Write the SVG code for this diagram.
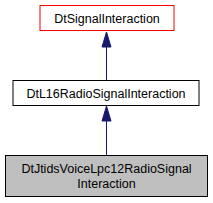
<svg xmlns="http://www.w3.org/2000/svg" width="213" height="203" viewBox="0 0 213 203">
<style>
.t{font-family:"Liberation Sans",Arial,sans-serif;font-size:12.5px;fill:#000;text-anchor:middle}
.e{stroke:#191970;stroke-width:1;fill:none}
.h{fill:#191970;stroke:#191970}
</style>
<rect width="213" height="203" fill="#fff"/>
<g id="edges">
<path class="e" d="M106.5,80 V47"/>
<path class="h" d="M106.5,32 L102,47 L111,47 Z"/>
<path class="e" d="M106.5,155 V121"/>
<path class="h" d="M106.5,106 L102,121 L111,121 Z"/>
</g>
<g id="n1">
<rect x="40" y="5.5" width="134" height="25" fill="#fff" stroke="#ff0000"/>
<text class="t" x="107" y="22.5">DtSignalInteraction</text>
</g>
<g id="n2">
<rect x="13" y="80.5" width="186" height="25" fill="#fff" stroke="#000"/>
<text class="t" x="106" y="97.5">DtL16RadioSignalInteraction</text>
</g>
<g id="n3">
<rect x="5.5" y="155.5" width="202" height="41" fill="#bfbfbf" stroke="#000"/>
<text class="t" x="106.5" y="172.5">DtJtidsVoiceLpc12RadioSignal</text>
<text class="t" x="106.5" y="187.5">Interaction</text>
</g>
</svg>
